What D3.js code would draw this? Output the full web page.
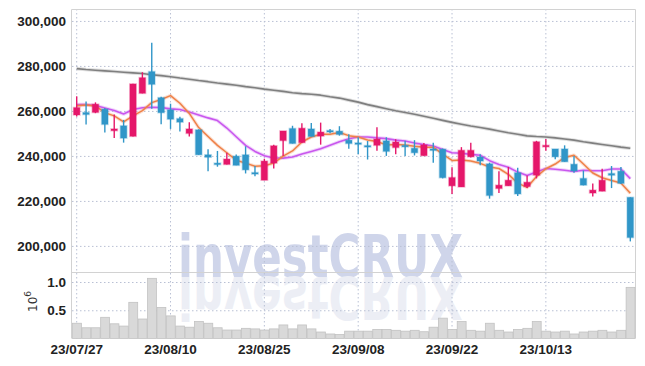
<!DOCTYPE html>
<html>
<head>
<meta charset="utf-8">
<script src="https://cdn.jsdelivr.net/npm/d3@7"></script>
<style>
  body { margin: 0; background: #fff; }
  .tick-label { font-family: "Liberation Sans", Arial, sans-serif; font-size: 13.5px; font-weight: bold; fill: #222; }
  .grid line { stroke: #b9c0d4; stroke-dasharray: 1.5,2.5; }
  .wm { font-family: "DejaVu Sans", sans-serif; font-weight: bold; font-size: 58px; }
</style>
</head>
<body>
<div id="chart"></div>
<script>
var dates = ["23/07/27","23/07/28","23/07/31","23/08/01","23/08/02","23/08/03","23/08/04","23/08/07","23/08/08","23/08/09",
             "23/08/10","23/08/11","23/08/14","23/08/16","23/08/17","23/08/18","23/08/21","23/08/22","23/08/23","23/08/24",
             "23/08/25","23/08/28","23/08/29","23/08/30","23/08/31","23/09/01","23/09/04","23/09/05","23/09/06","23/09/07",
             "23/09/08","23/09/11","23/09/12","23/09/13","23/09/14","23/09/15","23/09/18","23/09/19","23/09/20","23/09/21",
             "23/09/22","23/09/25","23/09/26","23/09/27","23/10/04","23/10/05","23/10/06","23/10/10","23/10/11","23/10/12",
             "23/10/13","23/10/16","23/10/17","23/10/18","23/10/19","23/10/20","23/10/23","23/10/24","23/10/25","23/10/26"];

var opens  = [258200,259300,259300,260800,251200,253400,248700,267800,277500,265900,
              260500,256600,250000,251600,240500,236800,236200,239900,240500,232600,
              229200,236800,246800,252200,245900,252000,248800,251300,251000,247000,
              245800,244600,244700,246700,243700,244700,243400,240100,243100,243000,
              226700,226200,239600,239500,236500,225500,226700,232500,226400,231400,
              244100,243100,243100,236300,230000,223500,224300,232200,233200,221600];
var highs  = [266500,264200,263800,261300,258400,256000,272100,277200,290300,266300,
              263200,257400,255000,251800,243000,242200,241400,240600,244300,235500,
              238700,245000,251100,253400,254500,254600,254800,252000,253200,249600,
              248300,246600,252700,248300,247400,246700,247000,245700,245900,243300,
              235000,243900,245900,240700,237000,233200,235100,234700,231300,246700,
              247500,243100,244700,240000,233500,227700,234300,235500,235100,221600];
var lows   = [257500,254000,259000,250400,248000,245900,248600,267800,261000,254100,
              252000,250900,248600,240500,233200,235200,236200,235800,232200,231000,
              229200,234400,240000,245500,245900,248600,245000,250100,249000,243200,
              240700,238400,242300,240000,240700,240000,240200,240100,237000,230000,
              223100,226200,239300,235900,221000,223500,226700,222200,225700,230000,
              242300,238500,237400,232500,226900,222000,224300,225700,227500,202000];
var closes = [261500,258400,263000,254000,252000,247900,272000,274800,271800,259200,
              256300,255000,252000,240500,239400,236400,238600,235800,233800,232200,
              237700,244500,251100,245500,252300,248600,250600,250900,249500,245500,
              245300,244300,247500,242000,246200,244300,241400,244900,242900,230300,
              230400,242500,242500,237700,222400,227000,229200,223100,228300,246300,
              244700,239600,237400,233300,227000,224800,229200,231400,227800,203700];

// volume in millions of shares
var volume = [0.27,0.19,0.19,0.375,0.26,0.22,0.64,0.345,1.065,0.55,
              0.40,0.22,0.20,0.30,0.27,0.19,0.15,0.15,0.18,0.17,
              0.15,0.17,0.24,0.17,0.24,0.17,0.115,0.08,0.07,0.13,
              0.13,0.13,0.16,0.16,0.145,0.13,0.145,0.12,0.20,0.36,
              0.16,0.30,0.145,0.13,0.27,0.145,0.115,0.16,0.18,0.30,
              0.13,0.115,0.13,0.08,0.115,0.13,0.145,0.115,0.145,0.905];

var ma5   = [262300,262600,262200,259200,257800,255100,257800,260100,263700,265100,
             266800,263400,258900,252600,248600,244700,241400,238100,236800,235400,
             235600,236800,239900,242200,246200,248400,249600,249600,250400,249000,
             248400,247100,246400,244900,245100,244900,244300,243800,243900,240800,
             238000,238200,237700,236700,235100,234400,231800,227900,226000,230800,
             234300,236400,239300,240300,236400,232400,230300,229100,228000,223400];
var ma10  = [262800,262800,262400,261300,260200,258600,260600,261400,261600,261500,
             260900,260600,259500,258200,256900,255700,252400,248500,244700,242000,
             240100,239100,239000,239500,240800,242000,243200,244700,246300,247600,
             248400,248400,248000,247700,247000,246600,245700,245100,244400,242900,
             241400,241200,240700,240300,237900,236200,235000,232800,231300,232900,
             234400,234100,233600,233100,233600,233400,233400,234200,234200,229900];
var ma120 = [278800,278400,278100,277800,277500,277200,276900,276600,276100,275700,
             275200,274600,274100,273500,273000,272400,271900,271400,270800,270300,
             269700,269200,268700,268100,267700,267400,267000,266300,265700,264800,
             263900,262800,261900,261000,260100,259300,258500,257600,256700,255800,
             254900,254100,253300,252600,251900,251100,250300,249600,248900,248600,
             248400,248000,247500,247000,246300,245700,245100,244500,243900,243400];

var priceTicks = [200000,220000,240000,260000,280000,300000];
var volTicks = [0.5,1.0];
var dateTicks = ["23/07/27","23/08/10","23/08/25","23/09/08","23/09/22","23/10/13"];

var upColor = "#e5176a", downColor = "#3096c8";

var W = 645, H = 366;
var plotLeft = 72, plotRight = 635, plotTop = 9, mainBottom = 272, volBottom = 338.5;

var svg = d3.select("#chart").append("svg")
    .attr("width", W)
    .attr("height", H);

var xScale = d3.scaleBand().domain(d3.range(dates.length)).range([plotLeft, plotRight]).padding(0);
var yScale = d3.scaleLinear().domain([188400, 305300]).range([mainBottom, plotTop]);
var vScale = d3.scaleLinear().domain([0, 1.177]).range([volBottom, mainBottom]);
var cx = function(i) { return xScale(i) + xScale.bandwidth() / 2; };

// watermark, with a faint mirrored copy underneath
var wm = svg.append("g").attr("class", "watermark");
wm.append("text")
    .attr("class", "wm")
    .attr("x", 178).attr("y", 277)
    .attr("textLength", 285).attr("lengthAdjust", "spacingAndGlyphs")
    .style("fill", "#cfd5ea")
    .text("investCRUX");
wm.append("text")
    .attr("class", "wm")
    .attr("x", 178).attr("y", -277)
    .attr("transform", "scale(1,-1)")
    .attr("textLength", 285).attr("lengthAdjust", "spacingAndGlyphs")
    .style("fill", "#eceef5")
    .text("investCRUX");

// grids
var yGrid = d3.axisLeft(yScale).tickValues(priceTicks).tickSize(-(plotRight - plotLeft)).tickFormat("");
svg.append("g").attr("class", "grid")
    .attr("transform", "translate(" + plotLeft + ",0)")
    .call(yGrid)
    .call(function(g) { g.select(".domain").remove(); });

var vGrid = d3.axisLeft(vScale).tickValues(volTicks).tickSize(-(plotRight - plotLeft)).tickFormat("");
svg.append("g").attr("class", "grid")
    .attr("transform", "translate(" + plotLeft + ",0)")
    .call(vGrid)
    .call(function(g) { g.select(".domain").remove(); });

var tickIdx = dateTicks.map(function(d) { return dates.indexOf(d); });
svg.append("g").attr("class", "grid")
    .selectAll("line")
    .data(tickIdx)
    .enter().append("line")
    .attr("x1", function(i) { return cx(i); })
    .attr("x2", function(i) { return cx(i); })
    .attr("y1", plotTop)
    .attr("y2", volBottom);

// frame
svg.append("path")
    .attr("d", "M" + (plotLeft - 0.5) + "," + volBottom + "V" + (plotTop + 0.5) + "H" + (plotRight + 0.5) + "V" + volBottom)
    .attr("fill", "none").attr("stroke", "#d2d2d2");
svg.append("line")
    .attr("x1", plotLeft).attr("x2", plotRight)
    .attr("y1", mainBottom + 0.5).attr("y2", mainBottom + 0.5)
    .attr("stroke", "#d2d2d2");

// volume bars
svg.append("g").selectAll("rect")
    .data(volume)
    .enter().append("rect")
    .attr("x", function(d, i) { return xScale(i) + 0.5; })
    .attr("width", xScale.bandwidth() - 0.5)
    .attr("y", function(d) { return vScale(d); })
    .attr("height", function(d) { return volBottom - vScale(d); })
    .attr("fill", "#d9d9d9")
    .attr("stroke", "#c2c2c2")
    .attr("stroke-width", 0.8);

// moving averages
function drawLine(values, color, w) {
    var line = d3.line()
        .x(function(d, i) { return cx(i); })
        .y(function(d) { return yScale(d); });
    svg.append("path").datum(values)
        .attr("d", line).attr("fill", "none")
        .attr("stroke", color).attr("stroke-width", w + 2).attr("stroke-opacity", 0.25)
        .attr("stroke-linejoin", "round");
    svg.append("path").datum(values)
        .attr("d", line).attr("fill", "none")
        .attr("stroke", color).attr("stroke-width", w)
        .attr("stroke-linejoin", "round");
}
drawLine(ma120, "#7f7f7f", 1.6);
drawLine(ma10, "#c957ee", 1.6);
drawLine(ma5, "#ef8148", 1.5);

// candles
var bodyW = xScale.bandwidth() * 0.68;
var candles = svg.append("g").selectAll("g")
    .data(d3.range(dates.length))
    .enter().append("g");

candles.append("line")
    .attr("x1", function(i) { return cx(i); })
    .attr("x2", function(i) { return cx(i); })
    .attr("y1", function(i) { return yScale(highs[i]); })
    .attr("y2", function(i) { return yScale(lows[i]); })
    .attr("stroke", function(i) { return closes[i] >= opens[i] ? upColor : downColor; })
    .attr("stroke-width", 1.4);

candles.append("rect")
    .attr("x", function(i) { return cx(i) - bodyW / 2; })
    .attr("width", bodyW)
    .attr("y", function(i) { return yScale(Math.max(opens[i], closes[i])); })
    .attr("height", function(i) { return Math.max(1.5, Math.abs(yScale(opens[i]) - yScale(closes[i]))); })
    .attr("fill", function(i) { return closes[i] >= opens[i] ? upColor : downColor; })
    .attr("stroke", function(i) { return closes[i] >= opens[i] ? upColor : downColor; })
    .attr("stroke-opacity", 0.3)
    .attr("stroke-width", 1.6);

// axis labels
var yAxis = d3.axisLeft(yScale).tickValues(priceTicks).tickSize(0).tickPadding(6)
    .tickFormat(d3.format(","));
svg.append("g")
    .attr("transform", "translate(" + plotLeft + ",0)")
    .call(yAxis)
    .call(function(g) {
        g.select(".domain").remove();
        g.selectAll("text").attr("class", "tick-label");
    });

var vAxis = d3.axisLeft(vScale).tickValues(volTicks).tickSize(0).tickPadding(6)
    .tickFormat(d3.format(".1f"));
svg.append("g")
    .attr("transform", "translate(" + plotLeft + ",0)")
    .call(vAxis)
    .call(function(g) {
        g.select(".domain").remove();
        g.selectAll("text").attr("class", "tick-label");
    });

svg.append("g").selectAll("text")
    .data(tickIdx)
    .enter().append("text")
    .attr("class", "tick-label")
    .attr("x", function(i) { return cx(i); })
    .attr("y", 354)
    .attr("text-anchor", "middle")
    .text(function(i) { return dates[i]; });

var unit = svg.append("text")
    .attr("transform", "translate(37,312) rotate(-90)")
    .style("font-family", "DejaVu Sans, sans-serif")
    .style("font-size", "12px")
    .style("fill", "#333");
unit.append("tspan").text("10");
unit.append("tspan").attr("dy", -6).style("font-size", "9px").text("6");
</script>
</body>
</html>
